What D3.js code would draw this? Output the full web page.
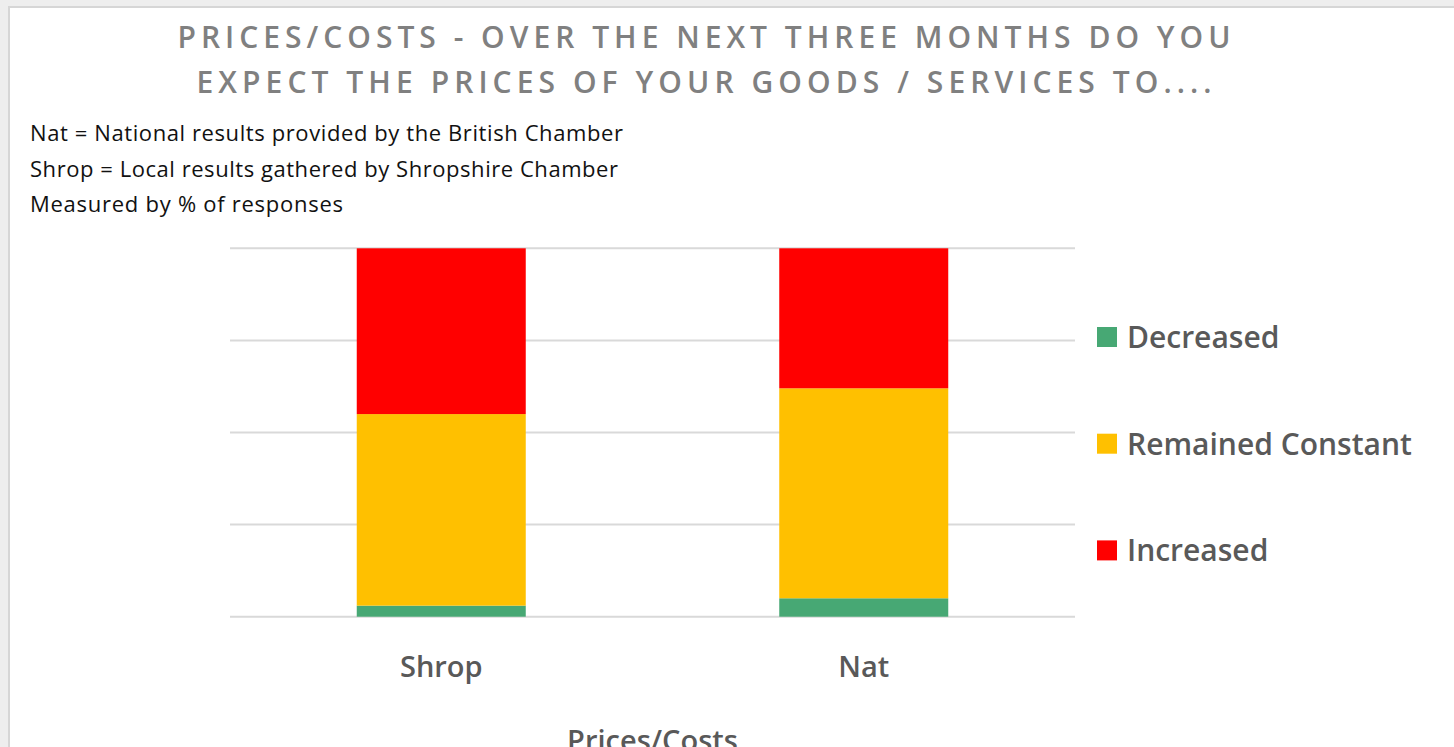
<!DOCTYPE html>
<html>
<head>
<meta charset="utf-8">
<script src="https://cdn.jsdelivr.net/npm/d3@7"></script>
<style>
  html, body { margin: 0; padding: 0; background: #eeeeee; overflow: hidden; }
  svg { display: block; }
</style>
</head>
<body>
<svg width="1454" height="747"></svg>
<script>
// Chart values (percent of responses)
const categories = ["Shrop", "Nat"];
const seriesNames = ["Decreased", "Remained Constant", "Increased"];
const decreased = [3, 5];
const remainedConstant = [52, 57];
const increased = [45, 38];
const gridTicks = [0, 25, 50, 75, 100];

const titleLines = [
    "PRICES/COSTS - OVER THE NEXT THREE MONTHS DO YOU",
    "EXPECT THE PRICES OF YOUR GOODS / SERVICES TO...."
];
const noteLines = [
    "Nat = National results provided by the British Chamber",
    "Shrop = Local results gathered by Shropshire Chamber",
    "Measured by % of responses"
];
const axisTitle = "Prices/Costs";

const colors = ["#47a874", "#ffc000", "#ff0000"];

// Build rows for the stack
const rows = categories.map((c, i) => ({
    cat: c,
    "Decreased": decreased[i],
    "Remained Constant": remainedConstant[i],
    "Increased": increased[i]
}));

const svg = d3.select("svg");
const width = +svg.attr("width");
const height = +svg.attr("height");

// chart frame
svg.append("rect")
    .attr("x", 9).attr("y", 7)
    .attr("width", width + 20).attr("height", height + 20)
    .attr("fill", "#ffffff")
    .attr("stroke", "#d6d6d6")
    .attr("stroke-width", 2);

const plot = { left: 230, right: 1075, top: 248.3, bottom: 616.7 };

const x = d3.scaleBand()
    .domain(categories)
    .range([plot.left, plot.right])
    .paddingInner(0.6)
    .paddingOuter(0.3);

const y = d3.scaleLinear()
    .domain([0, 100])
    .range([plot.bottom, plot.top]);

const color = d3.scaleOrdinal().domain(seriesNames).range(colors);

// gridlines
svg.append("g")
    .selectAll("line")
    .data(gridTicks)
    .enter()
    .append("line")
    .attr("x1", plot.left)
    .attr("x2", plot.right)
    .attr("y1", d => y(d))
    .attr("y2", d => y(d))
    .attr("stroke", "#d9d9d9")
    .attr("stroke-width", 2);

// stacked bars
const stacked = d3.stack().keys(seriesNames)(rows);

svg.append("g")
    .selectAll("g")
    .data(stacked)
    .enter()
    .append("g")
    .attr("fill", d => color(d.key))
    .selectAll("rect")
    .data(d => d)
    .enter()
    .append("rect")
    .attr("x", d => x(d.data.cat))
    .attr("width", x.bandwidth())
    .attr("y", d => y(d[1]))
    .attr("height", d => y(d[0]) - y(d[1]));

// category axis (labels only)
const xAxis = svg.append("g")
    .attr("transform", `translate(0,${plot.bottom})`)
    .call(d3.axisBottom(x).tickSize(0).tickPadding(0));
xAxis.select(".domain").remove();
xAxis.selectAll("text")
    .attr("dy", null)
    .attr("y", 60)
    .attr("font-family", "'Open Sans', sans-serif")
    .attr("font-size", 29)
    .attr("font-weight", 600)
    .attr("fill", "#595959");

svg.append("text")
    .attr("x", (plot.left + plot.right) / 2)
    .attr("y", 751)
    .attr("text-anchor", "middle")
    .attr("font-family", "'Open Sans', sans-serif")
    .attr("font-size", 29)
    .attr("font-weight", 600)
    .attr("fill", "#595959")
    .text(axisTitle);

// title
const titleWidths = [1053, 1015];
svg.append("g")
    .selectAll("text")
    .data(titleLines)
    .enter()
    .append("text")
    .attr("x", 704)
    .attr("y", (d, i) => 48 + i * 45)
    .attr("text-anchor", "middle")
    .attr("font-family", "'Open Sans', sans-serif")
    .attr("font-size", 30)
    .attr("font-weight", 600)
    .attr("fill", "#808080")
    .attr("textLength", (d, i) => titleWidths[i])
    .attr("lengthAdjust", "spacing")
    .text(d => d);

// notes
const noteWidths = [593, 588, 313];
svg.append("g")
    .selectAll("text")
    .data(noteLines)
    .enter()
    .append("text")
    .attr("x", 30)
    .attr("y", (d, i) => 141 + i * 35.5)
    .attr("font-family", "'Open Sans', sans-serif")
    .attr("font-size", 22)
    .attr("fill", "#111111")
    .attr("textLength", (d, i) => noteWidths[i])
    .attr("lengthAdjust", "spacing")
    .text(d => d);

// legend
const legend = svg.append("g")
    .selectAll("g")
    .data(seriesNames)
    .enter()
    .append("g")
    .attr("transform", (d, i) => `translate(1097,${337 + i * 106.7})`);

legend.append("rect")
    .attr("x", 0)
    .attr("y", -10)
    .attr("width", 20)
    .attr("height", 20)
    .attr("fill", d => color(d));

legend.append("text")
    .attr("x", 30)
    .attr("y", 11)
    .attr("font-family", "'Open Sans', sans-serif")
    .attr("font-size", 30)
    .attr("font-weight", 600)
    .attr("fill", "#595959")
    .text(d => d);
</script>
</body>
</html>
